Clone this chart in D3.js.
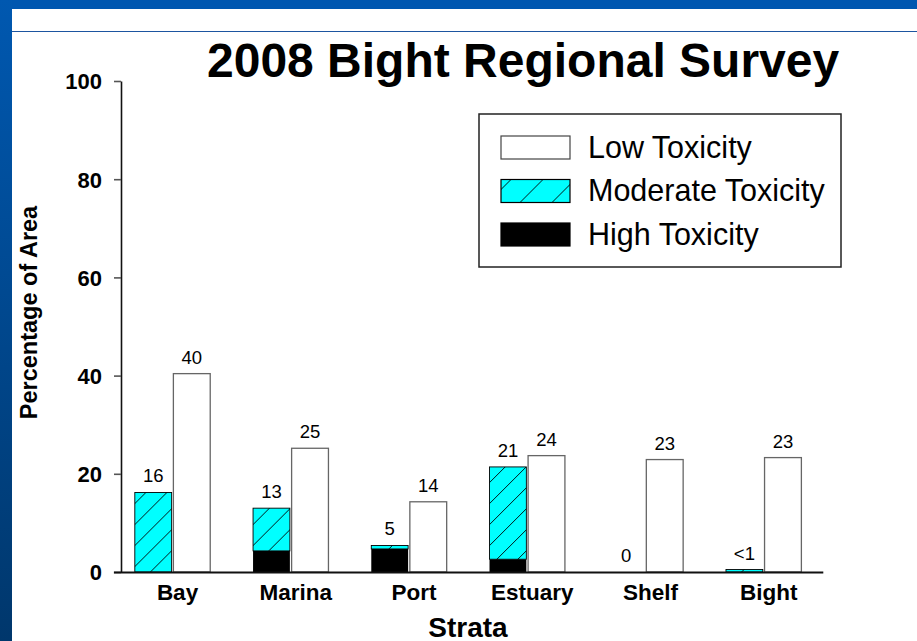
<!DOCTYPE html>
<html>
<head>
<meta charset="utf-8">
<script src="https://cdn.jsdelivr.net/npm/d3@7/dist/d3.min.js"></script>
<style>
  body { margin: 0; background: #fff; }
  svg { display: block; font-family: "Liberation Sans", Arial, Helvetica, sans-serif; }
</style>
</head>
<body>
<svg id="chart" width="917" height="641"></svg>
<script>
// Percentage of area by stratum and toxicity class
const strata = ["Bay", "Marina", "Port", "Estuary", "Shelf", "Bight"];
const lowToxicity = [40.4, 25.2, 14.3, 23.7, 22.9, 23.3];
const moderateToxicity = [16.2, 8.7, 0.7, 18.8, 0, 0.5];
const highToxicity = [0, 4.3, 4.7, 2.6, 0, 0];
const yTicks = [0, 20, 40, 60, 80, 100];
const legendLabels = ["Low Toxicity", "Moderate Toxicity", "High Toxicity"];

const svg = d3.select("#chart");
const W = 917, H = 641;

// slide frame: blue bands along the top and left, thin rule under the header
const defs = svg.append("defs");
const grad = defs.append("linearGradient").attr("id", "sideBand")
  .attr("x1", 0).attr("y1", 0).attr("x2", 0).attr("y2", 1);
grad.append("stop").attr("offset", "0%").attr("stop-color", "#0058b0");
grad.append("stop").attr("offset", "100%").attr("stop-color", "#00376c");

svg.append("rect").attr("x", 0).attr("y", 0).attr("width", W).attr("height", 9).attr("fill", "#0057b0");
svg.append("rect").attr("x", 0).attr("y", 0).attr("width", 12).attr("height", H).attr("fill", "url(#sideBand)");
svg.append("line").attr("x1", 12).attr("x2", W).attr("y1", 31.5).attr("y2", 31.5)
  .attr("stroke", "#1d55a0").attr("stroke-width", 1.2);

// hatch patterns for the moderate class
function hatch(id, size) {
  const p = defs.append("pattern").attr("id", id)
    .attr("patternUnits", "userSpaceOnUse")
    .attr("width", size).attr("height", size);
  p.append("rect").attr("width", size).attr("height", size).attr("fill", "#00ffff");
  p.append("path")
    .attr("d", `M0,${size} L${size},0 M${-size / 4},${size / 4} L${size / 4},${-size / 4} M${size * 3 / 4},${size * 5 / 4} L${size * 5 / 4},${size * 3 / 4}`)
    .attr("stroke", "#000").attr("stroke-width", 0.9);
}
hatch("hatchBar", 21);
hatch("hatchKey", 32);

// scales
const y = d3.scaleLinear().domain([0, 100]).range([572, 81]);
const x = d3.scaleBand().domain(strata).range([113.4, 822.8]).paddingInner(0).paddingOuter(0);
const half = 37.7;
const sub = d3.scaleBand().domain(["elevated", "low"])
  .range([x.bandwidth() / 2 - half, x.bandwidth() / 2 + half])
  .paddingInner(0.045).paddingOuter(0);

const rows = strata.map((s, i) => ({
  stratum: s,
  low: lowToxicity[i],
  moderate: moderateToxicity[i],
  high: highToxicity[i],
  elevated: moderateToxicity[i] + highToxicity[i]
}));

const fmt = v => (v > 0 && v < 1) ? "<1" : d3.format(".0f")(v);

// title
svg.append("text").attr("x", 207).attr("y", 77)
  .attr("font-size", 48).attr("font-weight", "bold").attr("fill", "#000")
  .text("2008 Bight Regional Survey");

// axes
const yAxis = d3.axisLeft(y).tickValues(yTicks).tickSize(7).tickSizeOuter(0).tickPadding(12);
const gy = svg.append("g").attr("transform", "translate(121,0)").call(yAxis);
gy.select(".domain").attr("stroke", "#111").attr("stroke-width", 1.6);
gy.selectAll(".tick line").attr("stroke", "#555").attr("stroke-width", 1.6);
gy.selectAll(".tick text").attr("font-size", 22).attr("font-weight", "bold")
  .attr("font-family", "'Liberation Sans', Arial, sans-serif").attr("fill", "#000").attr("dy", "0.36em");

const groups = svg.append("g").selectAll("g").data(rows).join("g")
  .attr("transform", d => `translate(${x(d.stratum)},0)`);

// high toxicity (bottom of the stacked bar)
groups.filter(d => d.high > 0).append("rect")
  .attr("x", sub("elevated")).attr("width", sub.bandwidth())
  .attr("y", d => y(d.high)).attr("height", d => y(0) - y(d.high))
  .attr("fill", "#000");

// moderate toxicity stacked above high
groups.filter(d => d.moderate > 0).append("rect")
  .attr("x", sub("elevated")).attr("width", sub.bandwidth())
  .attr("y", d => y(d.elevated)).attr("height", d => y(d.high) - y(d.elevated))
  .attr("fill", "url(#hatchBar)").attr("stroke", "#000").attr("stroke-width", 0.9);

// low toxicity
groups.append("rect")
  .attr("x", sub("low")).attr("width", sub.bandwidth())
  .attr("y", d => y(d.low)).attr("height", d => y(0) - y(d.low))
  .attr("fill", "#fff").attr("stroke", "#666").attr("stroke-width", 1.3);

// value labels
groups.append("text")
  .attr("x", sub("elevated") + sub.bandwidth() / 2).attr("y", d => y(d.elevated) - 10)
  .attr("text-anchor", "middle").attr("font-size", 18.5).attr("fill", "#000")
  .text(d => fmt(d.elevated));
groups.append("text")
  .attr("x", sub("low") + sub.bandwidth() / 2).attr("y", d => y(d.low) - 10)
  .attr("text-anchor", "middle").attr("font-size", 18.5).attr("fill", "#000")
  .text(d => fmt(d.low));

// x axis drawn over the bars
const xAxis = d3.axisBottom(x).tickSize(0).tickSizeOuter(0).tickPadding(12);
const gx = svg.append("g").attr("transform", "translate(0,572)").call(xAxis);
gx.select(".domain").attr("stroke", "#111").attr("stroke-width", 1.8);
gx.selectAll(".tick text").attr("font-size", 22.5).attr("font-weight", "bold")
  .attr("font-family", "'Liberation Sans', Arial, sans-serif").attr("fill", "#000")
  .attr("dx", 5);

// axis titles
svg.append("text").attr("transform", "translate(37,312.5) rotate(-90)")
  .attr("text-anchor", "middle").attr("font-size", 23.5).attr("font-weight", "bold")
  .text("Percentage of Area");
svg.append("text").attr("x", 468).attr("y", 636.5)
  .attr("text-anchor", "middle").attr("font-size", 28).attr("font-weight", "bold")
  .text("Strata");

// legend
const legend = svg.append("g").attr("transform", "translate(479,114)");
legend.append("rect").attr("width", 362).attr("height", 153)
  .attr("fill", "#fff").attr("stroke", "#222").attr("stroke-width", 1.5);
const keyFill = ["#fff", "url(#hatchKey)", "#000"];
const keyStroke = ["#444", "#000", "#000"];
const keyRows = legend.selectAll("g.key").data(legendLabels).join("g")
  .attr("class", "key")
  .attr("transform", (d, i) => `translate(0,${22 + i * 43.5})`);
keyRows.append("rect").attr("x", 22).attr("width", 69).attr("height", 23)
  .attr("fill", (d, i) => keyFill[i]).attr("stroke", (d, i) => keyStroke[i]).attr("stroke-width", 1.2);
keyRows.append("text").attr("x", 109).attr("y", 21.5)
  .attr("font-size", 30.5).attr("fill", "#000").text(d => d);
</script>
</body>
</html>
